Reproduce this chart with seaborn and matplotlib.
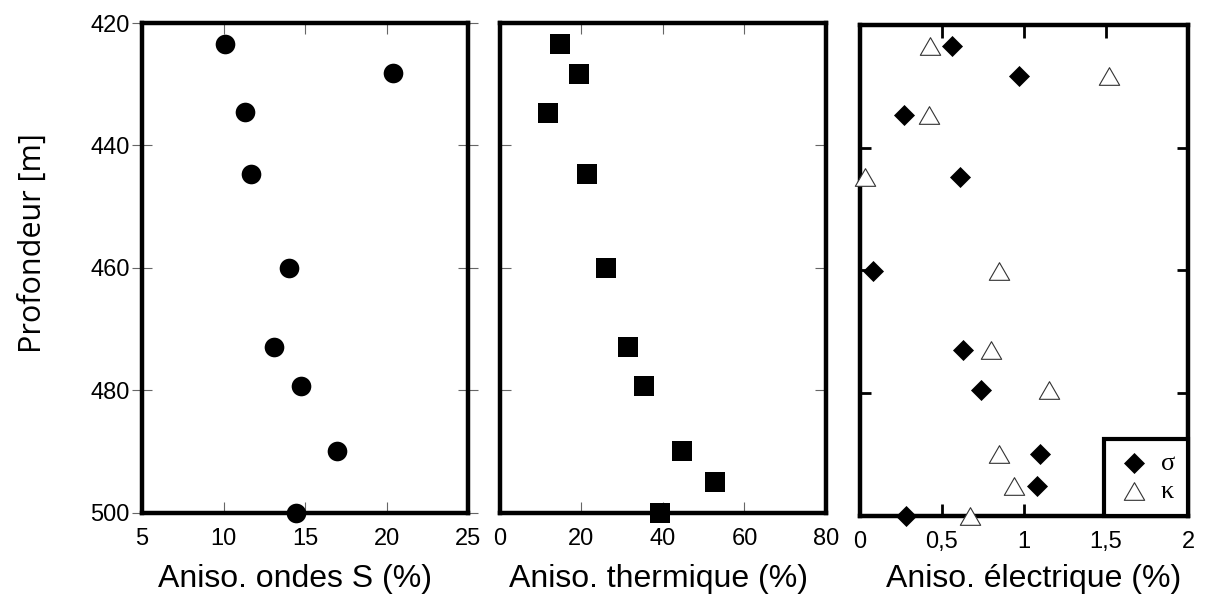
import numpy as np
import matplotlib
matplotlib.use("Agg")
import matplotlib.pyplot as plt
from matplotlib.path import Path
import seaborn as sns

# Depths (m) and anisotropy values
prof_s = [423.4, 428.2, 434.6, 444.6, 460.0, 472.9, 479.3, 489.8, 500.0]
aniso_s = [10.1, 20.4, 11.3, 11.7, 14.0, 13.1, 14.75, 16.95, 14.45]

prof_th = [423.5, 428.3, 434.7, 444.7, 460.0, 472.9, 479.3, 489.8, 495.0, 500.0]
aniso_th = [14.8, 19.3, 11.9, 21.3, 25.9, 31.5, 35.3, 44.7, 52.8, 39.2]

prof_el = [423.4, 428.3, 434.6, 444.7, 460.1, 472.9, 479.4, 489.9, 495.1, 500.0]
aniso_sigma = [0.56, 0.97, 0.27, 0.61, 0.08, 0.63, 0.74, 1.10, 1.08, 0.28]
aniso_kappa = [0.43, 1.52, 0.42, 0.03, 0.85, 0.80, 1.15, 0.85, 0.94, 0.67]

depth_ticks = [420, 440, 460, 480, 500]
s_ticks = [5, 10, 15, 20, 25]
th_ticks = [0, 20, 40, 60, 80]
el_ticks = [0, 0.5, 1, 1.5, 2]
el_ticklabels = ['0', '0,5', '1', '1,5', '2']

sns.set_theme(style='white')
plt.rcParams['font.family'] = ['Liberation Sans', 'DejaVu Sans']
plt.rcParams['text.color'] = 'black'
plt.rcParams['axes.labelcolor'] = 'black'

# equilateral triangle marker
tri = Path([(-1, -0.866), (1, -0.866), (0, 0.866), (-1, -0.866)],
           [Path.MOVETO, Path.LINETO, Path.LINETO, Path.CLOSEPOLY])

fig = plt.figure(figsize=(12.1, 5.99), dpi=100)
ax1 = fig.add_axes([0.1174, 0.1436, 0.2694, 0.818])
ax2 = fig.add_axes([0.4132, 0.1436, 0.2694, 0.818])
ax3 = fig.add_axes([0.7107, 0.1386, 0.2711, 0.8197])

# 1. S waves
sns.scatterplot(x=aniso_s, y=prof_s, ax=ax1, marker='o', s=200, color='black',
                edgecolor='black', linewidth=0, clip_on=False, zorder=3)
# 2. thermal
sns.scatterplot(x=aniso_th, y=prof_th, ax=ax2, marker='s', s=207, color='black',
                edgecolor='black', linewidth=0, clip_on=False, zorder=3)
# 3. electrical
sns.scatterplot(x=aniso_sigma, y=prof_el, ax=ax3, marker='D', s=115, color='black',
                edgecolor='black', linewidth=0, clip_on=False, zorder=3, label='σ')
sns.scatterplot(x=aniso_kappa, y=prof_el, ax=ax3, marker=tri, s=215, color='white',
                edgecolor='#333333', linewidth=0.8, clip_on=False, zorder=3, label='κ')

for ax in (ax1, ax2, ax3):
    ax.set_ylim(500, 420)
    ax.set_yticks(depth_ticks)
    for sp in ax.spines.values():
        sp.set_linewidth(3.2)
        sp.set_color('black')
        sp.set_zorder(2.5)

ax1.set_xlim(5, 25)
ax1.set_xticks(s_ticks)
ax2.set_xlim(0, 80)
ax2.set_xticks(th_ticks)
ax3.set_xlim(0, 2)
ax3.set_xticks(el_ticks)
ax3.set_xticklabels(el_ticklabels)

ax1.tick_params(axis='x', direction='in', top=True, bottom=True, length=8, width=0.8,
                color='#666666', labelcolor='black', labelsize=17, pad=11)
ax1.tick_params(axis='y', direction='inout', left=True, right=True, length=14, width=0.8,
                color='#666666', labelcolor='black', labelsize=17, pad=2)
ax2.tick_params(axis='x', direction='in', top=True, bottom=True, length=8, width=0.8,
                color='#666666', labelcolor='black', labelsize=17, pad=11)
ax2.tick_params(axis='y', direction='in', left=True, right=True, length=8, width=0.8,
                color='#666666', labelleft=False)
ax3.tick_params(axis='x', direction='in', top=True, bottom=True, length=9, width=2,
                color='black', labelcolor='black', labelsize=17, pad=11)
ax3.tick_params(axis='y', direction='in', left=True, right=True, length=8, width=2,
                color='black', labelleft=False)

ax1.set_ylabel('Profondeur [m]', fontsize=22, family=['Open Sans', 'DejaVu Sans'])
ax1.yaxis.set_label_coords(-0.29, 0.551)

ax1.set_xlabel('Aniso. ondes S (%)', fontsize=23)
ax2.set_xlabel('Aniso. thermique (%)', fontsize=23)
ax3.set_xlabel('Aniso. électrique (%)', fontsize=23)
ax1.xaxis.set_label_coords(0.468, -0.105)
ax2.xaxis.set_label_coords(0.486, -0.105)
ax3.xaxis.set_label_coords(0.53, -0.098)

leg = ax3.legend(loc='lower right', borderaxespad=0, frameon=True, fancybox=False,
                 framealpha=1,
                 prop={'family': ['Liberation Serif', 'DejaVu Serif'], 'size': 19},
                 handletextpad=0.35, labelspacing=0.15, borderpad=0.5, handlelength=1.3)
leg.get_frame().set_edgecolor('black')
leg.get_frame().set_linewidth(3)
leg.set_zorder(5)

fig.savefig('out.png', dpi=100)
